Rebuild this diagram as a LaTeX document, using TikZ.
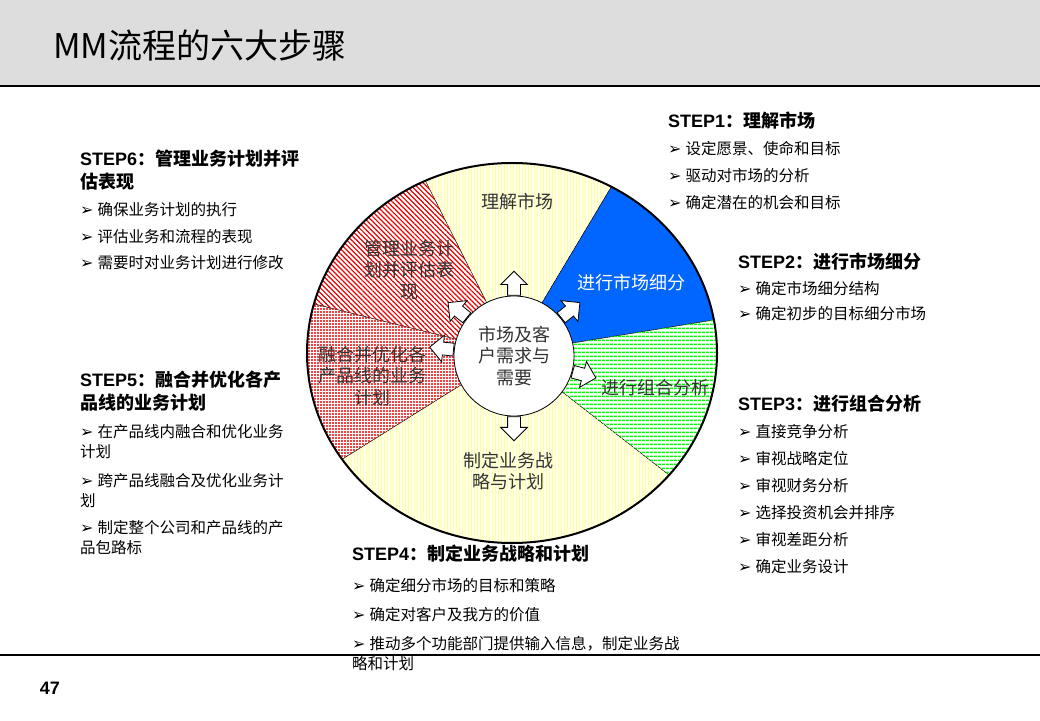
\documentclass[tikz,border=0pt]{standalone}
\usepackage{fontspec}
\setmainfont{Liberation Sans}
\newfontfamily\cjk{Noto Sans CJK SC}
\newfontfamily\bulletfont{DejaVu Sans}
\usepackage{tikz}
\usetikzlibrary{positioning}
\usetikzlibrary{shapes.arrows,patterns.meta}
\definecolor{bandgray}{RGB}{221,221,221}
\definecolor{segblue}{RGB}{0,102,255}
\definecolor{cream}{RGB}{255,255,236}
\definecolor{hatchyellow}{RGB}{255,255,165}
\definecolor{hatchgreen}{RGB}{0,255,0}
\definecolor{hatchred}{RGB}{235,0,0}
\tikzstyle{pie} = [draw=black, line width=0.4pt]
\tikzstyle{yellowpie} = [pie, fill=cream,
                postaction={pattern={Lines[angle=90,distance=3pt,line width=0.8pt]}, pattern color=hatchyellow}]
\tikzstyle{bluepie} = [pie, fill=segblue]
\tikzstyle{greenpie} = [pie, fill=white,
                postaction={pattern={Lines[angle=0,distance=4pt,line width=1.7pt]}, pattern color=hatchgreen}]
\tikzstyle{hatchpie} = [pie, fill=white,
                postaction={pattern={Lines[angle=-45,distance=3.5pt,line width=1.2pt]}, pattern color=hatchred}]
\tikzstyle{dotpie} = [pie, fill=white,
                postaction={pattern={Dots[distance=3pt,radius=1.05pt]}, pattern color=hatchred}]
\tikzstyle{hub} = [circle, draw, fill=white, line width=0.8pt, minimum size=120pt, inner sep=0pt,
                align=center, text=black!80, font=\cjk\fontsize{18}{21.5}\selectfont]
\tikzstyle{flow} = [single arrow, draw, fill=white, line width=0.8pt, inner xsep=0pt, inner ysep=6pt,
                minimum height=24pt, minimum width=26pt, single arrow head extend=7pt,
                single arrow head indent=0pt, anchor=tail]
\tikzstyle{seglabel} = [align=center, inner sep=0pt, text=black!80, font=\cjk\fontsize{18}{21.5}\selectfont]
\tikzstyle{heading} = [anchor=west, align=left, inner sep=0pt, font=\fontsize{18}{23}\selectfont\bfseries]
\tikzstyle{item} = [anchor=west, align=left, inner sep=0pt, font=\cjk\fontsize{15.5}{20}\selectfont]
\newcommand{\bul}{{\bulletfont\fontsize{16}{12}\selectfont\char"27A2}\hspace{4pt}}

\begin{document}
\begin{tikzpicture}[x=1pt,y=1pt]
    \useasboundingbox (0,0) rectangle (1040,720);
    % title band
    \fill[bandgray] (0,635) rectangle (1040,720);
    \draw[line width=1.5pt] (0,634) -- (1040,634);
    \draw[line width=1.2pt] (0,65) -- (1040,65);
    \node[anchor=west, inner sep=0pt, font=\cjk\fontsize{34}{34}\selectfont] (title) at (53,675) {MM流程的六大步骤};
    \node[inner sep=0pt, font=\fontsize{18}{18}\selectfont\bfseries] (page) at (50,32) {47};

    % wheel
    \coordinate (c) at (512,367);
    \path[yellowpie] (c) -- +(61:205 and 190) arc[start angle=61, end angle=115, x radius=205, y radius=190] -- cycle;
    \path[bluepie] (c) -- +(10:205 and 190) arc[start angle=10, end angle=61, x radius=205, y radius=190] -- cycle;
    \path[greenpie] (c) -- +(-40:205 and 190) arc[start angle=-40, end angle=10, x radius=205, y radius=190] -- cycle;
    \path[yellowpie] (c) -- +(214:205 and 190) arc[start angle=214, end angle=320, x radius=205, y radius=190] -- cycle;
    \path[dotpie] (c) -- +(165:205 and 190) arc[start angle=165, end angle=214, x radius=205, y radius=190] -- cycle;
    \path[hatchpie] (c) -- +(115:205 and 190) arc[start angle=115, end angle=165, x radius=205, y radius=190] -- cycle;
    \draw[line width=2pt] (c) ellipse[x radius=205, y radius=190];

    \node[seglabel] (seg1) at (517,518) {理解市场};
    \node[seglabel, text=white] (seg2) at (631,437) {进行市场细分};
    \node[seglabel] (seg3) at (655,332) {进行组合分析};
    \node[seglabel] (seg4) at (508,249) {制定业务战\\略与计划};
    \node[seglabel] (seg5) at (372,344) {融合并优化各\\产品线的业务\\计划};
    \node[seglabel] (seg6) at (409,450) {管理业务计\\划并评估表\\现};

    \node[hub] (market) at (514,364) {市场及客\\户需求与\\需要};
    \node[flow, rotate=90] (arrUp) at (market.90) {};
    \node[flow, rotate=39] (arrBlue) at (market.39) {};
    \node[flow, rotate=-15] (arrGreen) at (market.-15) {};
    \node[flow, rotate=-90] (arrDown) at (market.-90) {};
    \node[flow, rotate=174] (arrLeft) at (market.174) {};
    \node[flow, rotate=141] (arrHatch) at (market.141) {};

    % step 1
    \node[heading] (step1) at (668,599) {STEP1{\cjk ：理解市场}};
    \node[item, below=28pt of step1.west, anchor=west] (s1a) {\bul 设定愿景、使命和目标};
    \node[item, below=27pt of s1a.west, anchor=west] (s1b) {\bul 驱动对市场的分析};
    \node[item, below=27pt of s1b.west, anchor=west] (s1c) {\bul 确定潜在的机会和目标};
    % step 2
    \node[heading] (step2) at (738,458) {STEP2{\cjk ：进行市场细分}};
    \node[item, below=27pt of step2.west, anchor=west] (s2a) {\bul 确定市场细分结构};
    \node[item, below=25pt of s2a.west, anchor=west] (s2b) {\bul 确定初步的目标细分市场};
    % step 3
    \node[heading] (step3) at (738,316) {STEP3{\cjk ：进行组合分析}};
    \node[item, below=28pt of step3.west, anchor=west] (s3a) {\bul 直接竞争分析};
    \node[item, below=27pt of s3a.west, anchor=west] (s3b) {\bul 审视战略定位};
    \node[item, below=27pt of s3b.west, anchor=west] (s3c) {\bul 审视财务分析};
    \node[item, below=27pt of s3c.west, anchor=west] (s3d) {\bul 选择投资机会并排序};
    \node[item, below=27pt of s3d.west, anchor=west] (s3e) {\bul 审视差距分析};
    \node[item, below=27pt of s3e.west, anchor=west] (s3f) {\bul 确定业务设计};
    % step 4
    \node[heading] (step4) at (352,166) {STEP4{\cjk ：制定业务战略和计划}};
    \node[item, below=32pt of step4.west, anchor=west] (s4a) {\bul 确定细分市场的目标和策略};
    \node[item, below=29pt of s4a.west, anchor=west] (s4b) {\bul 确定对客户及我方的价值};
    \node[item, below=38.5pt of s4b.west, anchor=west] (s4c) {\bul 推动多个功能部门提供输入信息，制定业务战\\略和计划};
    % step 5
    \node[heading] (step5) at (80,328.5) {STEP5{\cjk ：融合并优化各产}\\{\cjk 品线的业务计划}};
    \node[item, below=50.5pt of step5.west, anchor=west] (s5a) {\bul 在产品线内融合和优化业务\\计划};
    \node[item, below=48.5pt of s5a.west, anchor=west] (s5b) {\bul 跨产品线融合及优化业务计\\划};
    \node[item, below=47.5pt of s5b.west, anchor=west] (s5c) {\bul 制定整个公司和产品线的产\\品包路标};
    % step 6
    \node[heading] (step6) at (80,549.5) {STEP6{\cjk ：管理业务计划并评}\\{\cjk 估表现}};
    \node[item, below=39.5pt of step6.west, anchor=west] (s6a) {\bul 确保业务计划的执行};
    \node[item, below=27pt of s6a.west, anchor=west] (s6b) {\bul 评估业务和流程的表现};
    \node[item, below=26pt of s6b.west, anchor=west] (s6c) {\bul 需要时对业务计划进行修改};
\end{tikzpicture}
\end{document}
